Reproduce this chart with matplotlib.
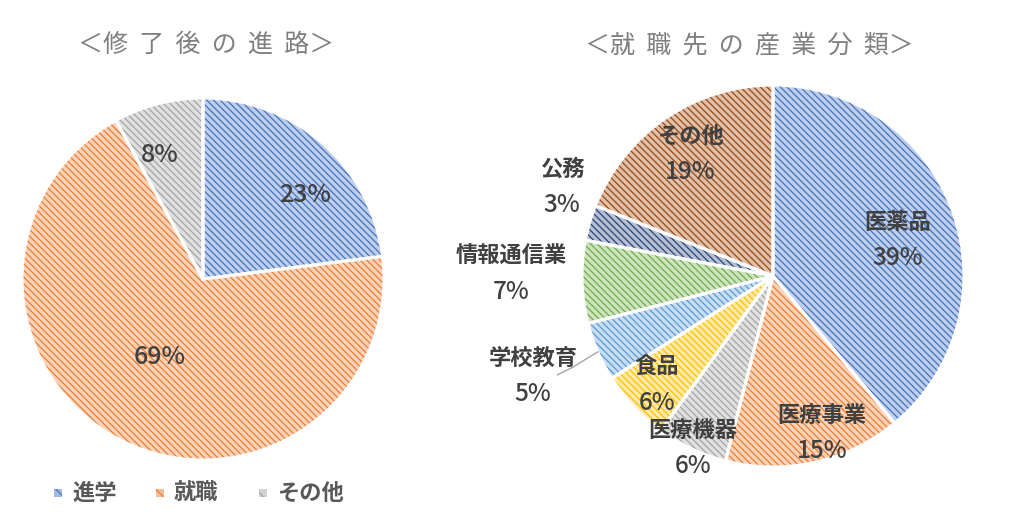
import numpy as np
import matplotlib.pyplot as plt
from matplotlib.colors import to_rgb
from matplotlib.patches import Rectangle

plt.rcParams['font.family'] = ['Noto Sans CJK JP', 'DejaVu Sans']
plt.rcParams['hatch.linewidth'] = 0.9

# 修了後の進路
path_labels = ['進学', '就職', 'その他']
path_values = [23, 69, 8]
path_colors = ['#4472C4', '#ED7D31', '#A5A5A5']

# 就職先の産業分類
ind_labels = ['医薬品', '医療事業', '医療機器', '食品', '学校教育', '情報通信業', '公務', 'その他']
ind_values = [39, 15, 6, 6, 5, 7, 3, 19]
ind_colors = ['#4472C4', '#ED7D31', '#A5A5A5', '#FFC000', '#5B9BD5', '#70AD47', '#264478', '#9E480E']

W, H = 1024, 531
fig = plt.figure(figsize=(W / 100, H / 100), dpi=100)
txt = '#404040'
hatch = '\\' * 5


def tint(c, k=0.66):
    r, g, b = to_rgb(c)
    return (r + (1 - r) * k, g + (1 - g) * k, b + (1 - b) * k)


def pie_axes(cx, cy, r):
    ax = fig.add_axes([(cx - r) / W, (H - cy - r) / H, 2 * r / W, 2 * r / H])
    return ax


def draw_pie(ax, values, colors):
    # pale fill with stripes in the full colour, then white separators on top
    wedges, _ = ax.pie(values, colors=[tint(c) for c in colors], startangle=90,
                       counterclock=False, radius=1, wedgeprops=dict(linewidth=0, hatch=hatch))
    for w, c in zip(wedges, colors):
        w.set_edgecolor(c)
        w.set_linewidth(0)
    ax.pie(values, colors=['none'] * len(values), startangle=90, counterclock=False, radius=1,
           wedgeprops=dict(edgecolor='white', linewidth=2.2))
    ax.set_xlim(-1, 1)
    ax.set_ylim(-1, 1)
    ax.axis('off')
    return wedges


# left pie
ax1 = pie_axes(203, 279, 181)
w1 = draw_pie(ax1, path_values, path_colors)
pos1 = [(0.564, 0.464), (-0.238, -0.431), (-0.238, 0.685)]
for (x, y), v in zip(pos1, path_values):
    ax1.text(x, y, f'{v}%', ha='center', va='center', fontsize=18, color=txt,
             fontweight='medium')

fig.text(206 / W, 1 - 45 / H, '＜修  了  後  の  進  路＞', ha='center', va='center',
         fontsize=18, color='#7F7F7F')

# right pie
ax2 = pie_axes(773, 276, 191)
w2 = draw_pie(ax2, ind_values, ind_colors)
pos2 = [(0.654, 0.188), (0.257, -0.822), (-0.419, -0.901), (-0.607, -0.571),
        (-1.257, -0.524), (-1.372, 0.010), (-1.105, 0.466), (-0.435, 0.639)]
dy = 18 / 191
for (x, y), lab, v in zip(pos2, ind_labels, ind_values):
    ax2.text(x, y + dy, lab, ha='center', va='center', fontsize=16, color=txt,
             fontweight='bold')
    ax2.text(x, y - dy, f'{v}%', ha='center', va='center', fontsize=17.5, color=txt,
             fontweight='medium')

# leader line for 学校教育
ang = np.deg2rad((w2[4].theta1 + w2[4].theta2) / 2)
p0 = np.array([np.cos(ang), np.sin(ang)]) * 1.0
ax2.plot([p0[0], p0[0] - 0.13, p0[0] - 0.21], [p0[1], p0[1] - 0.08, p0[1] - 0.12],
         color='#A6A6A6', lw=1, clip_on=False)

fig.text(749 / W, 1 - 45 / H, '＜就  職  先  の  産  業  分  類＞', ha='center', va='center',
         fontsize=18, color='#7F7F7F')

# legend
lx = [54, 156, 259]
for x, lab, c in zip(lx, path_labels, path_colors):
    fig.patches.append(Rectangle((x / W, 1 - 497 / H), 8 / W, 8 / H, transform=fig.transFigure,
                                 facecolor=tint(c, 0.5), edgecolor=c, lw=0, hatch='\\\\'))
    fig.text((x + 18) / W, 1 - 493 / H, lab, ha='left', va='center', fontsize=16,
             color='#595959', fontweight='bold')

fig.savefig('out.png', dpi=100)
